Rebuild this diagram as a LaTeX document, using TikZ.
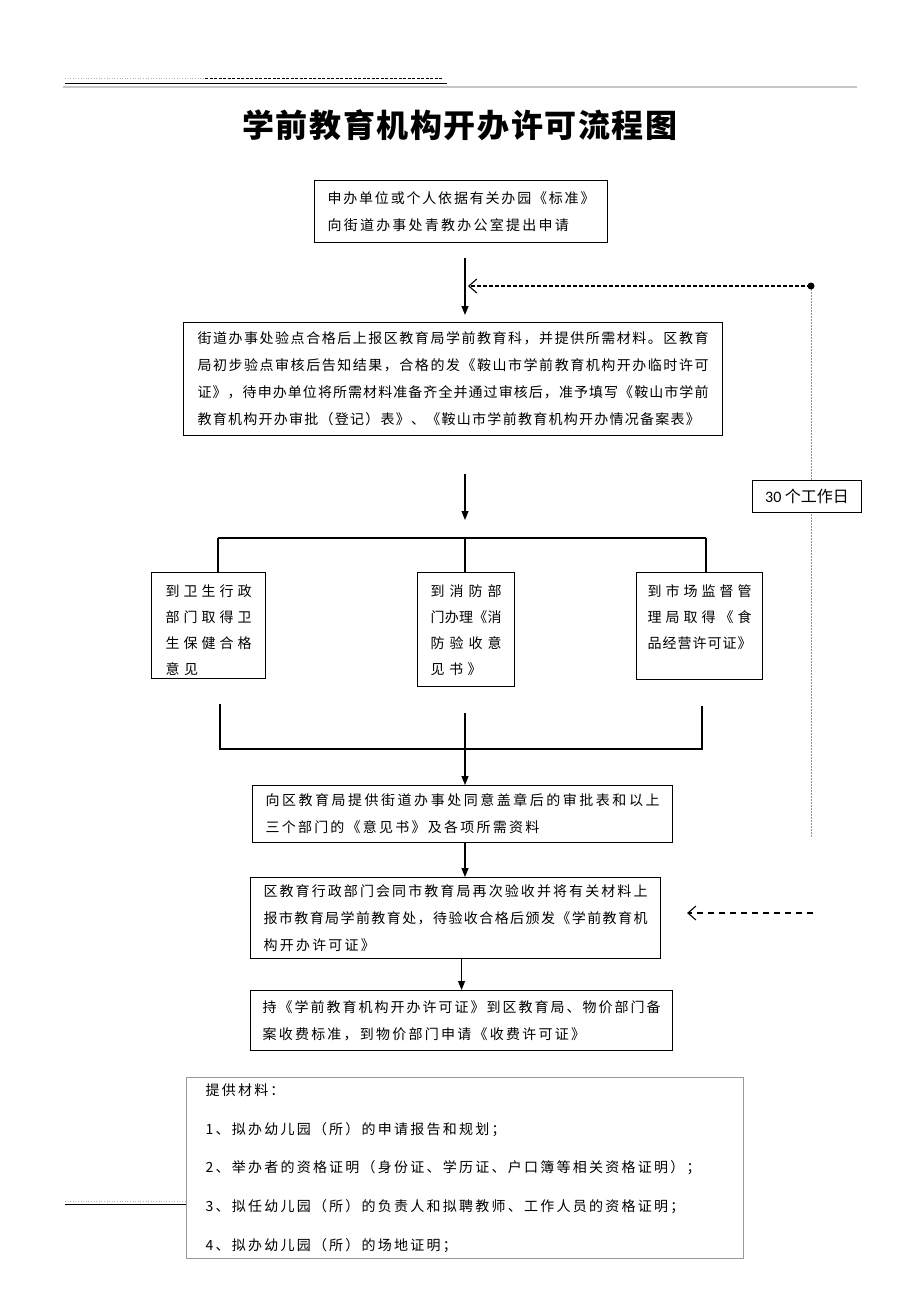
\documentclass[tikz,border=0pt]{standalone}
\usepackage{fontspec}
\setmainfont{Noto Sans CJK SC}
\newfontfamily\cjk[LetterSpace=16]{Noto Sans CJK SC}
\newfontfamily\cjkmid[LetterSpace=9]{Noto Sans CJK SC}
\newfontfamily\cjktight{Noto Sans CJK SC}
\newfontfamily\cjkwide[LetterSpace=32]{Noto Sans CJK SC}
\newfontfamily\cjktitle[LetterSpace=5]{Noto Sans CJK SC}
\newfontfamily\numfont{Carlito}
\usetikzlibrary{arrows.meta}

% Zeile auf volle Breite verteilen (wie Blocksatz)
\def\spreadend{}
\def\spreadline#1{\leavevmode\hbox to\hsize{\cjktight\spreadgo#1\spreadend}}
\def\spreadgo#1#2{#1\ifx#2\spreadend\else\hfill\expandafter\spreadgo\expandafter#2\fi}

\begin{document}
\begin{tikzpicture}[
    x=1pt, y=-1pt,
    line width=1.1pt,
    box/.style={draw, fill=white, anchor=north west, align=left, inner xsep=13pt, inner ysep=0pt,
        font=\cjk\fontsize{14}{27}\selectfont},
    branch/.style={draw, fill=white, anchor=north west, align=left, inner xsep=13pt, inner ysep=13pt,
        text height=11pt, font=\cjkwide\fontsize{14}{26}\selectfont},
    flow/.style={-{Triangle[length=9pt,width=7pt]}},
    feedback/.style={dashed, dash pattern=on 4pt off 2pt, -{Straight Barb[length=8pt,width=14pt]}},
    feedbacklow/.style={dash pattern=on 6pt off 5pt, -{Straight Barb[length=8pt,width=14pt]}}
]
\useasboundingbox (0,0) rectangle (920,1302);

% Kopfzeile
\draw[gray!60, dotted, line width=0.6pt] (65,78) -- (205,78);
\draw[dash pattern=on 3pt off 1.5pt, line width=0.9pt] (205,78) -- (443,78);
\draw[line width=1pt] (65,83) -- (447,83);
\draw[gray!45, line width=2pt] (63,87) -- (857,87);

\node[font=\cjktitle\bfseries\fontsize{32}{36}\selectfont] (title) at (460,125) {学前教育机构开办许可流程图};

% Hilfspunkte
\coordinate (spine) at (465,0);
\coordinate (loop) at (811,286);
\coordinate (loopend) at (811,838);
\coordinate (split) at (465,538);
\coordinate (splitL) at (218,538);
\coordinate (splitR) at (706,538);
\coordinate (join) at (465,749);
\coordinate (joinL) at (220,749);
\coordinate (joinR) at (702,749);
\coordinate (back) at (813,913);

% Rueckfuehrung 30 Tage
\draw[gray!85, dash pattern=on 1.5pt off 1.5pt, line width=1pt] (loop) -- (loopend);
\node[draw, fill=white, anchor=north west, minimum width=109pt, minimum height=32pt, inner sep=0pt,
    font=\fontsize{16}{18}\selectfont] (days) at (752,480) {{\numfont 30} 个工作日};

% Kaesten
\node[box, text width=267pt, minimum height=62pt] (apply) at (314,180)
    {\spreadline{申办单位或个人依据有关办园《标准》}\\向街道办事处青教办公室提出申请};
\node[box, text width=511pt, inner xsep=14pt, minimum height=113pt] (check) at (183,322)
    {\spreadline{街道办事处验点合格后上报区教育局学前教育科，并提供所需材料。区教育}\\
     \spreadline{局初步验点审核后告知结果，合格的发《鞍山市学前教育机构开办临时许可}\\
     \spreadline{证》，待申办单位将所需材料准备齐全并通过审核后，准予填写《鞍山市学前}\\
     {\cjkmid 教育机构开办审批（登记）表》、《鞍山市学前教育机构开办情况备案表》}};

\node[branch, text width=86pt, inner xsep=14pt, text depth=69pt] (health) at (151,572)
    {\spreadline{到卫生行政}\\\spreadline{部门取得卫}\\\spreadline{生保健合格}\\意见};
\node[branch, text width=71pt, text depth=77pt] (fire) at (417,572)
    {\spreadline{到消防部}\\\spreadline{门办理《消}\\\spreadline{防验收意}\\见书》};
\node[branch, text width=104pt, inner xsep=11pt, text depth=70pt] (market) at (636,572)
    {\spreadline{到市场监督管}\\\spreadline{理局取得《食}\\\spreadline{品经营许可证》}};

\node[box, text width=394pt, minimum height=57pt] (submit) at (252,785)
    {\spreadline{向区教育局提供街道办事处同意盖章后的审批表和以上}\\三个部门的《意见书》及各项所需资料};
\node[box, text width=384pt, minimum height=81pt] (review) at (250,877)
    {\spreadline{区教育行政部门会同市教育局再次验收并将有关材料上}\\
     \spreadline{报市教育局学前教育处，待验收合格后颁发《学前教育机}\\构开办许可证》};
\node[box, text width=398pt, inner xsep=12pt, minimum height=60pt] (fee) at (250,990)
    {\spreadline{持《学前教育机构开办许可证》到区教育局、物价部门备}\\案收费标准，到物价部门申请《收费许可证》};

\node[box, draw=gray!80, text width=519pt, inner xsep=19pt, minimum height=181pt,
    font=\cjk\fontsize{14}{38.75}\selectfont] (materials) at (186,1077)
    {提供材料：\\1、拟办幼儿园（所）的申请报告和规划；\\
     2、举办者的资格证明（身份证、学历证、户口簿等相关资格证明）；\\
     3、拟任幼儿园（所）的负责人和拟聘教师、工作人员的资格证明；\\
     4、拟办幼儿园（所）的场地证明；};

% Fusszeile
\draw[gray!60, dotted, line width=0.6pt] (65,1201) -- (materials.west |- 0,1201);
\draw[line width=0.9pt] (65,1204) -- (materials.west |- 0,1204);

% Verbindungen
\draw[flow, shorten <=15pt, shorten >=7pt] (apply.south -| spine) -- (check.north -| spine);
\draw[feedback, shorten >=3pt] (loop) -- (loop -| spine);
\fill (loop) circle (3.5pt);

\draw[flow, shorten <=38pt, shorten >=18pt] (check.south -| spine) -- (split);
\draw (splitL) -- (splitR);
\draw (splitL) -- (splitL |- health.north);
\draw (split) -- (split |- fire.north);
\draw (splitR) -- (splitR |- market.north);

\draw ([yshift=-25pt]health.south -| joinL) -- (joinL) -- (joinR) -- ([yshift=-26pt]market.south -| joinR);
\draw ([yshift=-26pt]fire.south -| join) -- (join);
\draw[flow] (join) -- (submit.north -| join);

\draw[flow] (submit.south -| spine) -- (review.north -| spine);
\draw[flow] (review.south -| fee.north) -- (fee.north);
\draw[feedbacklow, shorten >=26pt] (back) -- (back -| review.east);
\end{tikzpicture}
\end{document}
